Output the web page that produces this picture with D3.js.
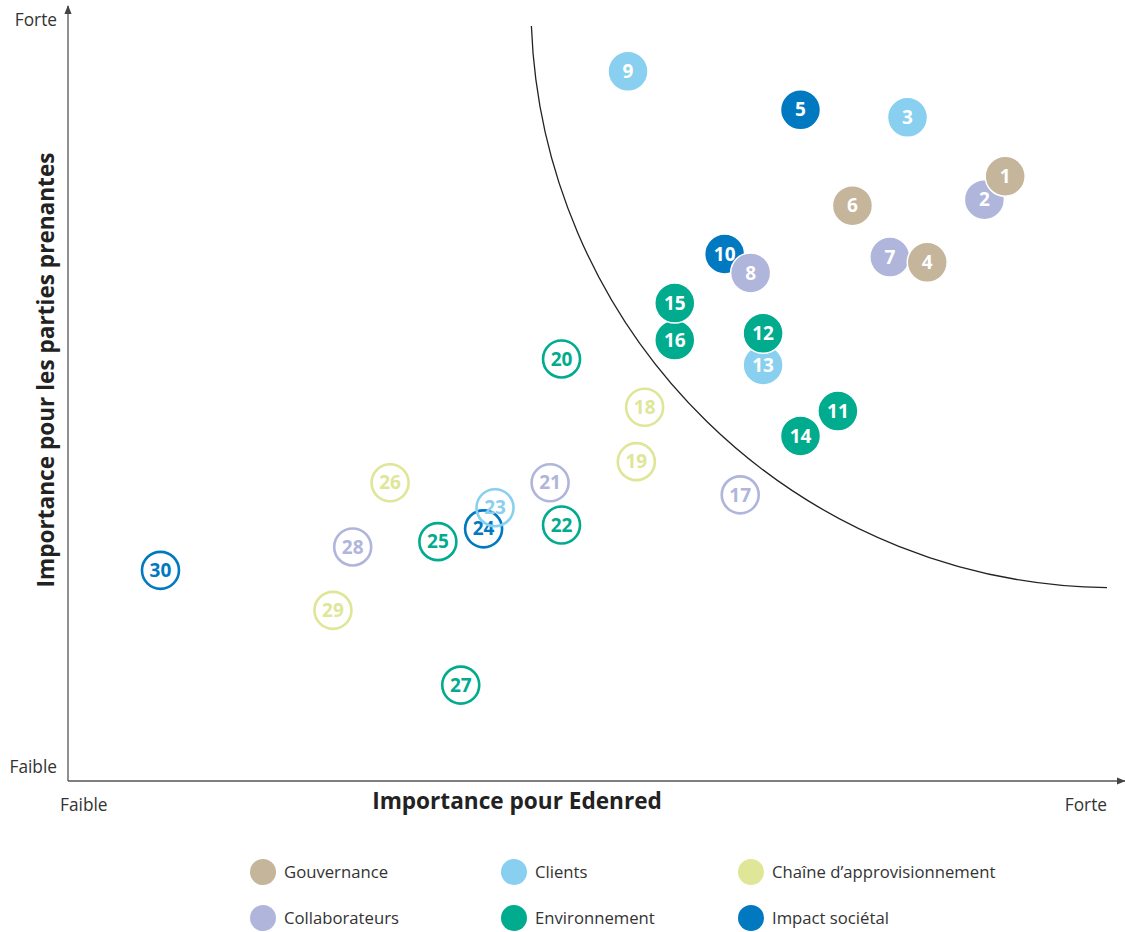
<!DOCTYPE html>
<html><head><meta charset="utf-8">
<script src="https://cdn.jsdelivr.net/npm/d3@7"></script>
<style>html,body{margin:0;padding:0;background:#fff}svg{display:block;font-family:"Open Sans","Noto Sans",sans-serif}</style>
</head><body>
<svg id="chart" width="1125" height="932"></svg>
<script>
// ---- data ----
const categories = ["Gouvernance","Clients","Chaîne d’approvisionnement","Collaborateurs","Environnement","Impact sociétal"];
const categoryColors = ["#c4b59b","#89cfef","#dfe697","#b0b5dc","#00ab8e","#0079c1"];
const ids =        [1,2,3,4,5,6,7,8,9,10,11,12,13,14,15,16,17,18,19,20,21,22,23,24,25,26,27,28,29,30];
const xValues =    [90.2,88.2,80.8,82.7,70.5,75.5,79.1,65.7,53.9,63.2,74.1,66.9,66.9,70.5,58.4,58.4,64.7,55.5,54.7,47.5,46.4,47.5,41.1,40.0,35.6,31.0,37.8,27.4,25.5,8.9];
const yValues =    [80.1,77.0,87.9,68.7,88.9,76.2,69.4,67.3,94.0,69.8,49.0,59.3,55.1,45.7,63.3,58.4,37.9,49.5,42.3,55.9,39.5,33.9,36.2,33.4,31.7,39.5,12.7,31.0,22.6,27.9];
const pointCategory = ["Gouvernance","Collaborateurs","Clients","Gouvernance","Impact sociétal","Gouvernance","Collaborateurs","Collaborateurs","Clients","Impact sociétal",
  "Environnement","Environnement","Clients","Environnement","Environnement","Environnement","Collaborateurs","Chaîne d’approvisionnement","Chaîne d’approvisionnement","Environnement",
  "Collaborateurs","Environnement","Clients","Impact sociétal","Environnement","Chaîne d’approvisionnement","Environnement","Collaborateurs","Chaîne d’approvisionnement","Impact sociétal"];
const highPriority = [1,1,1,1,1,1,1,1,1,1,1,1,1,1,1,1,0,0,0,0,0,0,0,0,0,0,0,0,0,0];
// materiality frontier: circular arc from start to end (data units), radius in x-units
const frontierStart = [44.6,100];
const frontierEnd = [100,25.6];
const frontierRadius = 56.2;
const xTickLabels = ["Faible","Forte"];
const yTickLabels = ["Faible","Forte"];
const xTitle = "Importance pour Edenred";
const yTitle = "Importance pour les parties prenantes";

// ---- drawing ----
const svg = d3.select("#chart");
const x = d3.scaleLinear().domain([0,100]).range([68,1107]);
const y = d3.scaleLinear().domain([0,100]).range([781,26]);
const color = d3.scaleOrdinal().domain(categories).range(categoryColors);

const defs = svg.append("defs");
defs.append("marker").attr("id","arr").attr("viewBox","0 0 10 10").attr("refX",9).attr("refY",5)
  .attr("markerWidth",7).attr("markerHeight",7).attr("orient","auto-start-reverse")
  .append("path").attr("d","M0,1 L10,5 L0,9 Z").attr("fill","#444");

// axes
svg.append("line").attr("x1",68).attr("y1",781).attr("x2",68).attr("y2",6)
  .attr("stroke","#555").attr("stroke-width",1.3).attr("marker-end","url(#arr)");
svg.append("line").attr("x1",68).attr("y1",781).attr("x2",1125).attr("y2",781)
  .attr("stroke","#555").attr("stroke-width",1.3).attr("marker-end","url(#arr)");

// tick labels
const tickFs = 17.3;
svg.append("text").attr("x",57).attr("y",y(100)+0).attr("text-anchor","end").attr("font-size",tickFs).attr("fill","#333").text(yTickLabels[1]);
svg.append("text").attr("x",57).attr("y",y(0)-8).attr("text-anchor","end").attr("font-size",tickFs).attr("fill","#333").text(yTickLabels[0]);
svg.append("text").attr("x",60).attr("y",811).attr("text-anchor","start").attr("font-size",tickFs).attr("fill","#333").text(xTickLabels[0]);
svg.append("text").attr("x",x(100)).attr("y",811).attr("text-anchor","end").attr("font-size",tickFs).attr("fill","#333").text(xTickLabels[1]);

// titles
svg.append("text").attr("x",517).attr("y",809).attr("text-anchor","middle").attr("font-size",22.6).attr("font-weight","bold").attr("fill","#222").text(xTitle);
svg.append("text").attr("transform","translate(54,370) rotate(-90)").attr("text-anchor","middle").attr("font-size",22.6).attr("font-weight","bold").attr("fill","#222").text(yTitle);

// frontier curve
const rPx = x(frontierRadius) - x(0);
svg.append("path")
  .attr("d", `M${x(frontierStart[0])},${y(frontierStart[1])} A${rPx},${rPx} 0 0 0 ${x(frontierEnd[0])},${y(frontierEnd[1])}`)
  .attr("fill","none").attr("stroke","#222").attr("stroke-width",1.3);

// points
const pts = ids.map((id,i)=>({id, x:xValues[i], y:yValues[i], cat:pointCategory[i], filled:highPriority[i]===1}));
const g = svg.append("g").selectAll("g").data(pts.slice().reverse()).join("g")
  .attr("transform", d=>`translate(${x(d.x)},${y(d.y)})`);
g.append("circle")
  .attr("r", d=>d.filled?20:18.5)
  .attr("fill", d=>d.filled?color(d.cat):"none")
  .attr("stroke", d=>d.filled?"#fff":color(d.cat))
  .attr("stroke-width", d=>d.filled?1.5:2.6);
g.append("text").attr("text-anchor","middle").attr("dy","0.35em")
  .attr("font-size",19).attr("font-weight","bold")
  .attr("fill", d=>d.filled?"#fff":color(d.cat))
  .text(d=>d.id);

// legend
const legendX = [263,514,751];
const legendY = [872,918];
const lg = svg.append("g").selectAll("g").data(categories).join("g")
  .attr("transform",(d,i)=>`translate(${legendX[i%3]},${legendY[Math.floor(i/3)]})`);
lg.append("circle").attr("r",13).attr("fill",d=>color(d));
lg.append("text").attr("x",21).attr("dy","0.35em").attr("font-size",16.7).attr("fill","#333").text(d=>d);
</script>
</body></html>
